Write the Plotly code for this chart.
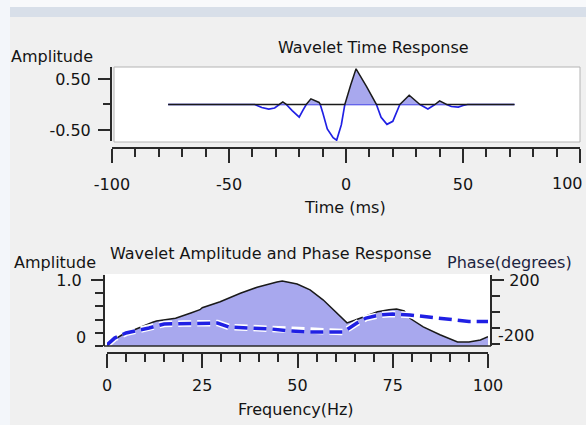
import plotly.graph_objects as go

# ---------------- data ----------------
time_ms = [-76, -39, -36, -33, -30.5, -28.5, -27, -25.5, -23, -20, -18.5, -17, -15,
           -12.5, -11.5, -11, -10, -8, -5.5, -4, -2, -0.5, 2, 4.3, 8.8, 11, 13, 15,
           17.5, 20, 23, 27, 31.6, 35, 38, 40, 43, 45, 48, 50, 52, 72]
wavelet_amp = [0, 0, -0.06, -0.09, -0.07, 0.0, 0.05, 0.0, -0.12, -0.25, -0.12, 0.0, 0.11,
               0.06, 0.04, 0.0, -0.15, -0.48, -0.65, -0.70, -0.40, 0.0, 0.38, 0.70, 0.35, 0.18, 0.0, -0.25,
               -0.39, -0.33, 0.0, 0.18, 0.0, -0.09, 0.0, 0.07, 0.0, -0.04, -0.05, -0.02, 0.0, 0.0]

freq_hz = [0, 2, 4, 6, 8, 10, 12, 13, 18, 22, 24.4, 25, 29.7, 35, 39.4, 44.6, 46, 49.9,
           53.3, 56.7, 60.4, 63, 65, 68, 71, 74, 76, 78, 79.5, 83, 87.4, 92, 95, 98, 100]
spec_amp = [0, 0.10, 0.17, 0.22, 0.27, 0.32, 0.36, 0.38, 0.42, 0.50, 0.55, 0.58, 0.67, 0.80,
            0.89, 0.97, 0.985, 0.94, 0.85, 0.70, 0.50, 0.35, 0.39, 0.45, 0.52, 0.55, 0.56, 0.53,
            0.42, 0.29, 0.17, 0.06, 0.06, 0.09, 0.14]

phase_freq = [0, 2, 5, 8.6, 11, 15, 20, 25, 29, 32, 37.5, 43, 48, 53, 59, 62, 65.6, 68,
              71.6, 75, 79.5, 84.5, 90, 95, 100]
phase_deg = [-206, -163, -131, -113, -100, -75, -72, -69, -69, -94, -100, -106, -119, -125,
             -125, -125, -69, -38, -19, -13, -19, -31, -44, -59, -59]

time_ticks = [-100, -50, 0, 50, 100]
time_ticktext = ["-100", "-50", "0", "50", ""]
time_edge_label = (100, "100")
amp_ticks = [0.5, -0.5]
amp_ticktext = ["0.50", "-0.50"]
freq_ticks = [0, 25, 50, 75, 100]
freq_ticktext = ["0", "25", "50", "75", "100"]
spec_ticks = [1.0]
spec_ticktext = ["1.0"]
spec_low_label = (0, "0")
phase_ticks = [200]
phase_ticktext = ["200"]
phase_low_label = (-200, "-200")

# ---------------- style ----------------
W, H = 586, 425
FONT = "DejaVu Sans"
TXT = "#141414"
AX = "#2a2a2a"
FILL = "rgb(168,168,238)"
BLUE = "#2020e4"


def px(x):
    return x / W


def py(y):
    return 1 - y / H


pos = [max(v, 0) for v in wavelet_amp]
neg = [min(v, 0) for v in wavelet_amp]

fig = go.Figure()

# top: wavelet time response
fig.add_trace(go.Scatter(x=time_ms, y=neg, mode="lines", line=dict(color=BLUE, width=1.7),
                         xaxis="x", yaxis="y", hoverinfo="skip", showlegend=False))
fig.add_trace(go.Scatter(x=time_ms, y=pos, mode="lines", fill="tozeroy", fillcolor=FILL,
                         line=dict(color="#1a1a1a", width=1.5), xaxis="x", yaxis="y",
                         hoverinfo="skip", showlegend=False))

# bottom: amplitude spectrum + phase
fig.add_trace(go.Scatter(x=freq_hz, y=spec_amp, mode="lines", fill="tozeroy", fillcolor=FILL,
                         line=dict(color="#1a1a1a", width=1.5), xaxis="x2", yaxis="y2",
                         hoverinfo="skip", showlegend=False))
fig.add_trace(go.Scatter(x=phase_freq, y=phase_deg, mode="lines",
                         line=dict(color="white", width=6.5, dash="13px,6px"), xaxis="x2", yaxis="y3",
                         hoverinfo="skip", showlegend=False))
fig.add_trace(go.Scatter(x=phase_freq, y=phase_deg, mode="lines",
                         line=dict(color=BLUE, width=3.5, dash="13px,6px"), xaxis="x2", yaxis="y3",
                         hoverinfo="skip", showlegend=False))

tickfont = dict(family=FONT, size=16, color=TXT)
common = dict(showgrid=False, zeroline=False, showline=True, linecolor=AX, linewidth=2,
              ticks="outside", tickcolor=AX, tickwidth=1.5, tickfont=tickfont, fixedrange=True,
              automargin=False, ticklabeloverflow="allow")

fig.update_layout(
    width=W, height=H,
    margin=dict(l=0, r=0, t=0, b=0, pad=0, autoexpand=False),
    paper_bgcolor="#f0f0f0",
    plot_bgcolor="rgba(0,0,0,0)",
    font=dict(family=FONT, size=16, color=TXT),
    xaxis=dict(domain=[px(112), px(580)], range=[-100, 100], anchor="free", position=py(148),
               tickmode="array", tickvals=time_ticks, ticktext=time_ticktext, ticklen=14,
               ticklabelstandoff=8,
               minor=dict(tickmode="linear", tick0=0, dtick=10, ticks="outside", ticklen=8,
                          tickcolor=AX, tickwidth=1.5), **common),
    yaxis=dict(domain=[py(141), py(67)], range=[-0.716, 0.735], anchor="free", position=px(111),
               tickmode="array", tickvals=amp_ticks, ticktext=amp_ticktext, ticklen=12,
               ticklabelstandoff=4,
               minor=dict(tickmode="linear", tick0=0, dtick=0.5, ticks="outside", ticklen=7,
                          tickcolor=AX, tickwidth=1.5), **common),
    xaxis2=dict(domain=[px(107), px(488)], range=[0, 100], anchor="free", position=py(353),
                tickmode="array", tickvals=freq_ticks, ticktext=freq_ticktext, ticklen=14,
                ticklabelstandoff=4,
                minor=dict(tickmode="linear", tick0=0, dtick=5, ticks="outside", ticklen=8,
                           tickcolor=AX, tickwidth=1.5), **common),
    yaxis2=dict(domain=[py(346), py(275)], range=[0, 1.076], anchor="free", position=px(104),
                tickmode="array", tickvals=spec_ticks, ticktext=spec_ticktext, ticklen=12,
                ticklabelstandoff=6,
                minor=dict(tickmode="linear", tick0=0, dtick=0.2, ticks="outside", ticklen=8,
                           tickcolor=AX, tickwidth=1.5), **common),
    yaxis3=dict(domain=[py(346), py(275)], range=[-212.5, 231], anchor="free", position=px(491),
                overlaying="y2", side="right",
                tickmode="array", tickvals=phase_ticks, ticktext=phase_ticktext, ticklen=12,
                ticklabelstandoff=2,
                minor=dict(tickmode="linear", tick0=-200, dtick=100, ticks="outside", ticklen=8,
                           tickcolor=AX, tickwidth=1.5), **common),
)

shapes = [
    # window chrome
    dict(type="rect", xref="paper", yref="paper", x0=0, x1=1, y0=py(7), y1=1,
         fillcolor="#f8f9fb", line=dict(width=0), layer="below"),
    dict(type="rect", xref="paper", yref="paper", x0=px(10), x1=1, y0=py(17), y1=py(7),
         fillcolor="#d8dfe9", line=dict(width=0), layer="below"),
    dict(type="rect", xref="paper", yref="paper", x0=0, x1=px(10), y0=0, y1=1,
         fillcolor="#f3f6fa", line=dict(width=0), layer="below"),
    # top plot box
    dict(type="rect", xref="paper", yref="paper", x0=px(114), x1=px(580), y0=py(142), y1=py(67),
         fillcolor="white", line=dict(color="#b4b4b4", width=1), layer="below"),
    # bottom plot box
    dict(type="rect", xref="paper", yref="paper", x0=px(105), x1=px(491), y0=py(346), y1=py(274),
         fillcolor="white", line=dict(width=0), layer="below"),
    dict(type="line", xref="paper", yref="paper", x0=px(104), x1=px(491), y0=py(346), y1=py(346),
         line=dict(color=AX, width=1.5), layer="above"),
]
fig.update_layout(shapes=shapes)


def label(text, x, y, xanchor="center", color=TXT, xref="paper", yref="paper", yshift=0,
          xshift=0):
    fig.add_annotation(text=text, x=x, y=y, xref=xref, yref=yref, xanchor=xanchor,
                       yanchor="middle", showarrow=False, yshift=yshift, xshift=xshift,
                       font=dict(family=FONT, size=16, color=color))


label("Amplitude", px(9), py(56), "left")
label("Wavelet Time Response", px(374), py(47))
label("Time (ms)", px(345), py(207))
label("Amplitude", px(12), py(262), "left")
label("Wavelet Amplitude and Phase Response", px(108), py(253), "left")
label("Phase(degrees)", px(445), py(262), "left", color="#1c2440")
label("Frequency(Hz)", px(296), py(409))
# edge tick labels, nudged to fit inside the window as in the original
label(time_edge_label[1], time_edge_label[0], py(184), "right", xref="x", xshift=5)
label(spec_low_label[1], px(88), spec_low_label[0], "right", yref="y2", yshift=9)
label(phase_low_label[1], px(496), phase_low_label[0], "left", yref="y3", yshift=9)

fig.write_html("out.html")
